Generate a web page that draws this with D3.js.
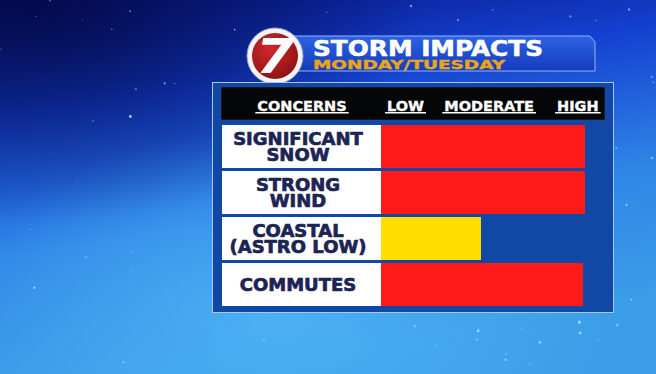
<!DOCTYPE html>
<html>
<head>
<meta charset="utf-8">
<script src="https://cdn.jsdelivr.net/npm/d3@7/dist/d3.min.js"></script>
<style>
  html, body { margin: 0; padding: 0; background: #0b2a9a; }
  svg { display: block; }
</style>
</head>
<body>
<svg id="chart" width="656" height="374"></svg>
<script>
// storm impact levels, 0 = none, 100 = top of HIGH
var concerns = ["SIGNIFICANT SNOW", "STRONG WIND", "COASTAL (ASTRO LOW)", "COMMUTES"];
var concernLines = [["SIGNIFICANT", "SNOW"], ["STRONG", "WIND"], ["COASTAL", "(ASTRO LOW)"], ["COMMUTES"]];
var impact = [100, 100, 49, 99];
var impactLevel = ["high", "high", "low", "high"];

var levelLabels = ["LOW", "MODERATE", "HIGH"];
var levelPos = [12, 53, 96.5];

var title = "STORM IMPACTS";
var subtitle = "MONDAY/TUESDAY";

var W = 656, H = 374;
var svg = d3.select("#chart");
var defs = svg.append("defs");

// background
var bg = defs.append("linearGradient").attr("id", "bg")
    .attr("x1", 0).attr("y1", 0).attr("x2", 0.25).attr("y2", 1);
bg.append("stop").attr("offset", "0").attr("stop-color", "#071482");
bg.append("stop").attr("offset", "0.3").attr("stop-color", "#1440d0");
bg.append("stop").attr("offset", "0.65").attr("stop-color", "#2f86e6");
bg.append("stop").attr("offset", "1").attr("stop-color", "#3c9ee8");

var shade = defs.append("radialGradient").attr("id", "shade")
    .attr("cx", 0.05).attr("cy", 0).attr("r", 0.6);
shade.append("stop").attr("offset", "0").attr("stop-color", "#030a45").attr("stop-opacity", 0.9);
shade.append("stop").attr("offset", "1").attr("stop-color", "#030a45").attr("stop-opacity", 0);

var glow = defs.append("radialGradient").attr("id", "glow")
    .attr("cx", 0.42).attr("cy", 0.85).attr("r", 0.5);
glow.append("stop").attr("offset", "0").attr("stop-color", "#4fb6f6").attr("stop-opacity", 0.8);
glow.append("stop").attr("offset", "1").attr("stop-color", "#4fb6f6").attr("stop-opacity", 0);

svg.append("rect").attr("width", W).attr("height", H).attr("fill", "url(#bg)");
svg.append("rect").attr("width", W).attr("height", H).attr("fill", "url(#glow)");
svg.append("rect").attr("width", W).attr("height", H).attr("fill", "url(#shade)");

// faint stars, fixed seed so the picture is the same every run
var seed = 7;
function nxt() { seed = (seed * 16807) % 2147483647; return seed / 2147483647; }
var stars = d3.range(110).map(function() { return [nxt() * W, nxt() * H, 0.4 + nxt() * 1.1, 0.25 + nxt() * 0.5]; });
svg.append("g").selectAll("circle").data(stars).join("circle")
    .attr("cx", function(d) { return d[0]; })
    .attr("cy", function(d) { return d[1]; })
    .attr("r", function(d) { return d[2]; })
    .attr("fill", "#dbeaff")
    .attr("opacity", function(d) { return d[3]; });

// title banner
var ban = defs.append("linearGradient").attr("id", "ban").attr("x1", 0).attr("y1", 0).attr("x2", 0).attr("y2", 1);
ban.append("stop").attr("offset", "0").attr("stop-color", "#2d62e4");
ban.append("stop").attr("offset", "1").attr("stop-color", "#143cbc");
svg.append("path")
    .attr("d", "M290,36 L590,36 L595,42 L595,71 L290,71 Z")
    .attr("fill", "url(#ban)")
    .attr("stroke", "#93b4ff").attr("stroke-width", 1);

svg.append("text").text(title)
    .attr("x", 313).attr("y", 56)
    .attr("textLength", 230).attr("lengthAdjust", "spacingAndGlyphs")
    .attr("font-family", "DejaVu Sans").attr("font-weight", "bold").attr("font-size", 20.5)
    .attr("fill", "#ffffff").attr("stroke", "#ffffff").attr("stroke-width", 0.5);
svg.append("text").text(subtitle)
    .attr("x", 313).attr("y", 68.5)
    .attr("textLength", 192).attr("lengthAdjust", "spacingAndGlyphs")
    .attr("font-family", "DejaVu Sans").attr("font-weight", "bold").attr("font-size", 12.5)
    .attr("fill", "#e9a51a").attr("stroke", "#e9a51a").attr("stroke-width", 0.4);

// logo
var red = defs.append("radialGradient").attr("id", "red").attr("cx", 0.4).attr("cy", 0.35).attr("r", 0.7);
red.append("stop").attr("offset", "0").attr("stop-color", "#d0282a");
red.append("stop").attr("offset", "1").attr("stop-color", "#8e1214");
var logo = svg.append("g").attr("transform", "translate(275,56)");
logo.append("circle").attr("r", 28).attr("fill", "#f2f4f8").attr("stroke", "#9aa6c0").attr("stroke-width", 1);
logo.append("circle").attr("r", 23).attr("fill", "url(#red)");
logo.append("text").text("7")
    .attr("text-anchor", "middle").attr("y", 17)
    .attr("transform", "skewX(-12) scale(1.15,1)")
    .attr("font-family", "DejaVu Sans").attr("font-weight", "bold").attr("font-size", 48)
    .attr("fill", "#ffffff");

// panel
svg.append("rect")
    .attr("x", 212.5).attr("y", 82.5).attr("width", 401).attr("height", 230)
    .attr("fill", "#1148a6").attr("stroke", "#a9c6ea").attr("stroke-width", 1);

svg.append("rect")
    .attr("x", 221).attr("y", 87).attr("width", 384).attr("height", 33)
    .attr("fill", "#050608").attr("stroke", "#2a4a8a").attr("stroke-width", 0.6);

var x = d3.scaleLinear().domain([0, 100]).range([381, 585]);
var y = d3.scaleBand().domain(concerns).range([123.5, 307.5]).paddingInner(0.065).paddingOuter(0.0325);
var color = d3.scaleOrdinal().domain(["low", "high"]).range(["#ffde00", "#ff1a1a"]);

// header labels with underlines
var headers = [{ t: "CONCERNS", cx: 302 }].concat(levelLabels.map(function(l, i) { return { t: l, cx: x(levelPos[i]) }; }));
var hg = svg.append("g").selectAll("g").data(headers).join("g");
hg.append("text")
    .text(function(d) { return d.t; })
    .attr("x", function(d) { return d.cx; }).attr("y", 110.5)
    .attr("text-anchor", "middle")
    .attr("font-family", "DejaVu Sans").attr("font-weight", "bold").attr("font-size", 14.5)
    .attr("fill", "#ffffff").attr("stroke", "#ffffff").attr("stroke-width", 0.35);
hg.each(function(d) {
    var w = d3.select(this).select("text").node().getComputedTextLength();
    d3.select(this).append("line")
        .attr("x1", d.cx - w / 2 - 2).attr("x2", d.cx + w / 2 + 2)
        .attr("y1", 112.8).attr("y2", 112.8)
        .attr("stroke", "#ffffff").attr("stroke-width", 1.4);
});

// rows
var rows = svg.append("g").selectAll("g").data(concerns).join("g");

rows.append("rect")
    .attr("x", 222).attr("y", function(d) { return y(d); })
    .attr("width", 381 - 222).attr("height", y.bandwidth())
    .attr("fill", "#ffffff");

rows.append("rect")
    .attr("x", x(0)).attr("y", function(d) { return y(d); })
    .attr("width", function(d, i) { return x(impact[i]) - x(0); })
    .attr("height", y.bandwidth())
    .attr("fill", function(d, i) { return color(impactLevel[i]); });

var lh = 16.8;
rows.each(function(d, i) {
    var lines = concernLines[i];
    var mid = y(d) + y.bandwidth() / 2;
    d3.select(this).selectAll("text.lab").data(lines).join("text")
        .attr("class", "lab")
        .text(function(t) { return t; })
        .attr("x", 298)
        .attr("y", function(t, j) { return mid + (j - (lines.length - 1) / 2) * lh + 6.5; })
        .attr("text-anchor", "middle")
        .attr("font-family", "DejaVu Sans").attr("font-weight", "bold").attr("font-size", 18)
        .attr("fill", "#1c2453").attr("stroke", "#1c2453").attr("stroke-width", 0.7);
});
</script>
</body>
</html>
